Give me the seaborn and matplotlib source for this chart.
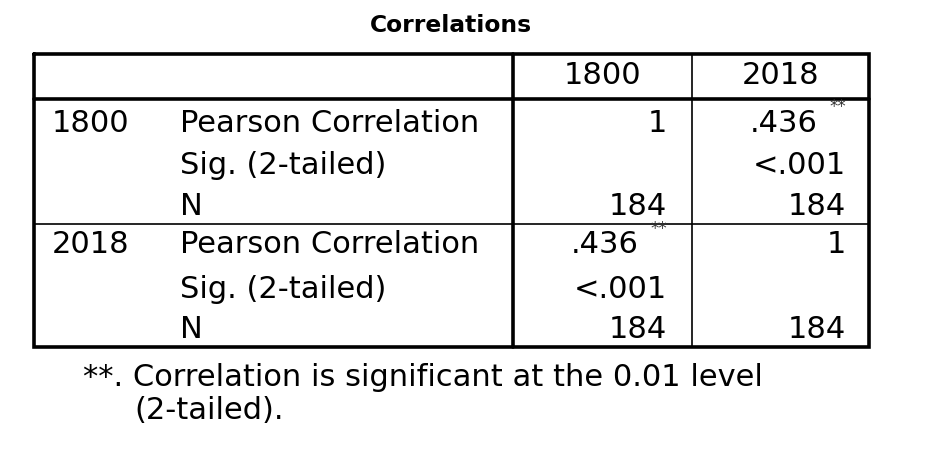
import numpy as np
import seaborn as sns
import matplotlib.pyplot as plt

# table content
title = "Correlations"
col_vars = ["1800", "2018"]
row_vars = ["1800", "2018"]
stat_labels = ["Pearson Correlation", "Sig. (2-tailed)", "N"]
pearson = [[1, .436], [.436, 1]]
sig = [["", "<.001"], ["<.001", ""]]
n_obs = [[184, 184], [184, 184]]
flag = [["", "**"], ["**", ""]]
footnote = ["**. Correlation is significant at the 0.01 level", "(2-tailed)."]

sns.set_theme(style="white")
plt.rcParams["font.family"] = ["DejaVu Sans"]
plt.rcParams["text.color"] = "black"

fig = plt.figure(figsize=(9.46, 4.60), dpi=100)
ax = fig.add_axes([0, 0, 1, 1])
ax.set_xlim(0, 946)
ax.set_ylim(460, 0)
ax.axis("off")

fs = 22
ink = "black"

# layout (pixels)
left, right, top, bottom = 34, 869, 55, 348
head_bot = 100
block_sep = 225
vcol1, vcol2 = 513, 692
col_right = [667, 846]
row_y = [[123, 166, 207], [245, 290, 330]]


def fmt(v):
    if isinstance(v, float):
        return ("%.3f" % v).lstrip("0")
    return str(v)


ax.text(451, 25, title, ha="center", va="center", fontsize=16.8, fontweight="bold")

# grid lines
ax.plot([left, right, right, left, left], [top, top, bottom, bottom, top], color=ink, lw=2.6,
        solid_joinstyle="miter")
ax.plot([left, right], [head_bot, head_bot], color=ink, lw=2.6)
ax.plot([left, right], [block_sep, block_sep], color=ink, lw=1.2)
ax.plot([vcol1, vcol1], [top, bottom], color=ink, lw=2.6)
ax.plot([vcol2, vcol2], [top, bottom], color=ink, lw=1.2)

# header
for j, c in enumerate(col_vars):
    cx = (vcol1 + vcol2) / 2 if j == 0 else (vcol2 + right) / 2
    ax.text(cx, 76, c, ha="center", va="center", fontsize=fs)

for i, rv in enumerate(row_vars):
    ax.text(52, row_y[i][0], rv, ha="left", va="center", fontsize=fs)
    for k, s in enumerate(stat_labels):
        ax.text(180, row_y[i][k], s, ha="left", va="center", fontsize=fs)
    for j in range(len(col_vars)):
        cells = [fmt(pearson[i][j]), sig[i][j], fmt(n_obs[i][j])]
        for k, txt in enumerate(cells):
            xr = col_right[j]
            if k == 0 and flag[i][j]:
                ax.text(xr, row_y[i][0] - 16, flag[i][j], ha="right", va="center",
                        fontsize=12, color="#333333")
                xr -= 28
            ax.text(xr, row_y[i][k], txt, ha="right", va="center", fontsize=fs)

ax.text(83, 378, footnote[0], ha="left", va="center", fontsize=fs)
ax.text(134, 411, footnote[1], ha="left", va="center", fontsize=fs)

fig.savefig("out.png", dpi=100, facecolor="white")
